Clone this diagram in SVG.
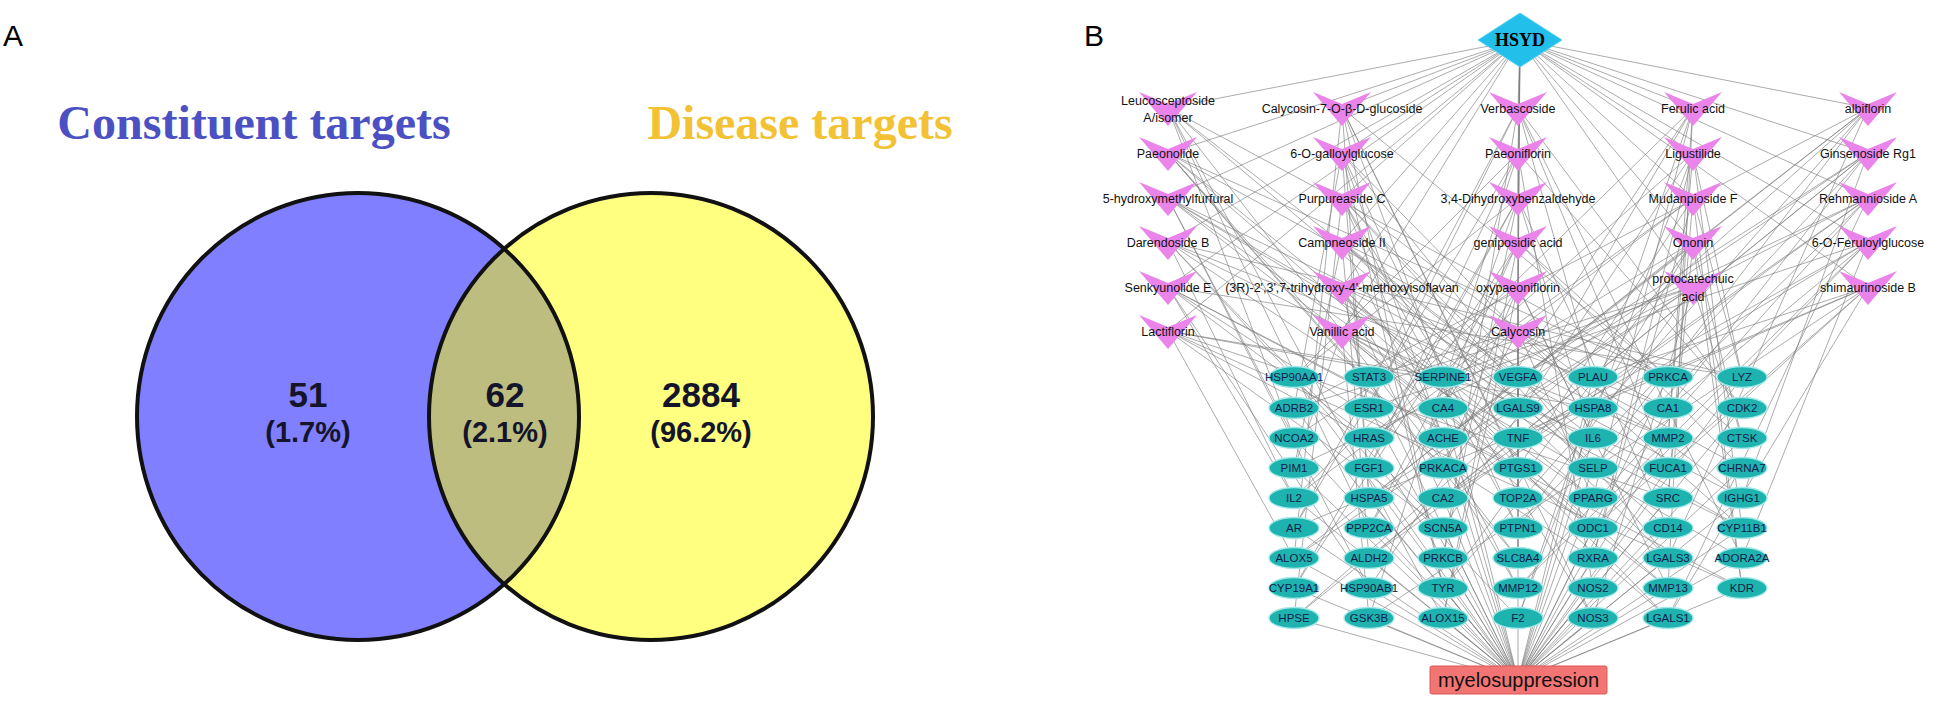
<svg xmlns="http://www.w3.org/2000/svg" xmlns:xlink="http://www.w3.org/1999/xlink" width="1937" height="712" viewBox="0 0 1937 712">
<style>
.panel{font-family:"Liberation Sans",Arial,sans-serif;font-size:30px;fill:#000}
.title{font-family:"Liberation Serif","Times New Roman",serif;font-weight:bold;font-size:48px;text-anchor:middle}
.num{font-family:"Liberation Sans",Arial,sans-serif;font-weight:700;font-size:35px;text-anchor:middle;fill:#14142a}
.pct{font-family:"Liberation Sans",Arial,sans-serif;font-weight:700;font-size:29px;text-anchor:middle;fill:#14142a}
.ring{fill:none;stroke:#111;stroke-width:4}
.edge{fill:none;stroke:#7c7c7c;stroke-width:0.75;opacity:0.85}
.cmp use{fill:#EA84EA}
.cmp text{font-family:"Liberation Sans",Arial,sans-serif;font-size:12.5px;text-anchor:middle;fill:#111}
.tgt ellipse{fill:#1FB3AF;stroke:#A2E8E8;stroke-width:1.3}
.tgt text{font-family:"Liberation Sans",Arial,sans-serif;font-size:11.5px;text-anchor:middle;fill:#12204a}
</style>
<defs>
<polygon id="vshape" points="-29,-16 0,-4 29,-16 0,18"/>
<clipPath id="clipL"><ellipse cx="358" cy="416.5" rx="221" ry="223.5"/></clipPath>
</defs>
<rect width="1937" height="712" fill="#fff"/>

<!-- Panel A -->
<text class="panel" x="3" y="46">A</text>
<g id="venn">
<text class="title" x="254" y="139" fill="#4B50C3">Constituent targets</text>
<text class="title" x="800" y="139" fill="#F3C234">Disease targets</text>
<ellipse cx="358" cy="416.5" rx="221" ry="223.5" fill="#7F7FFF"/>
<ellipse cx="651" cy="416.5" rx="222" ry="223.5" fill="#FFFF80"/>
<ellipse cx="651" cy="416.5" rx="222" ry="223.5" fill="#BDBD80" clip-path="url(#clipL)"/>
<ellipse class="ring" cx="358" cy="416.5" rx="221" ry="223.5"/>
<ellipse class="ring" cx="651" cy="416.5" rx="222" ry="223.5"/>
<text class="num" x="308" y="407">51</text>
<text class="pct" x="308" y="442">(1.7%)</text>
<text class="num" x="505" y="407">62</text>
<text class="pct" x="505" y="442">(2.1%)</text>
<text class="num" x="701" y="407">2884</text>
<text class="pct" x="701" y="442">(96.2%)</text>
</g>

<!-- Panel B -->
<text class="panel" x="1084" y="46">B</text>
<g id="connectors">
<path class="edge" d="M1520 40L1168 108M1520 40L1168 153M1520 40L1168 198M1520 40L1168 242M1520 40L1168 287M1520 40L1168 331M1520 40L1342 108M1520 40L1342 153M1520 40L1342 198M1520 40L1342 242M1520 40L1342 287M1520 40L1342 331M1520 40L1518 108M1520 40L1518 153M1520 40L1518 198M1520 40L1518 242M1520 40L1518 287M1520 40L1518 331M1520 40L1693 108M1520 40L1693 153M1520 40L1693 198M1520 40L1693 242M1520 40L1693 287M1520 40L1868 108M1520 40L1868 153M1520 40L1868 198M1520 40L1868 242M1520 40L1868 287"/>
<path class="edge" d="M1168 108L1294 438M1168 108L1369 528M1168 108L1443 618M1168 108L1593 438M1168 108L1668 528
M1168 153L1369 377M1168 153L1443 468M1168 153L1518 558M1168 153L1668 377M1168 153L1742 468
M1168 198L1369 588M1168 198L1518 408M1168 198L1593 498M1168 198L1668 588M1168 198L1294 438
M1168 242L1443 528M1168 242L1518 618M1168 242L1668 438M1168 242L1742 528M1168 242L1369 377
M1168 287L1518 468M1168 287L1593 558M1168 287L1742 377M1168 287L1294 498M1168 287L1369 588
M1168 331L1593 408M1168 331L1668 498M1168 331L1742 588M1168 331L1369 438M1168 331L1443 528
M1342 108L1593 618M1342 108L1742 438M1342 108L1294 558M1342 108L1443 377M1342 108L1518 468
M1342 153L1668 558M1342 153L1294 408M1342 153L1369 498M1342 153L1443 588M1342 153L1593 408
M1342 198L1742 498M1342 198L1294 618M1342 198L1443 438M1342 198L1518 528M1342 198L1593 618
M1342 242L1294 468M1342 242L1369 558M1342 242L1518 377M1342 242L1593 468M1342 242L1668 558
M1342 287L1369 408M1342 287L1443 498M1342 287L1518 588M1342 287L1668 408M1342 287L1742 498
M1342 331L1369 618M1342 331L1518 438M1342 331L1593 528M1342 331L1668 618M1342 331L1294 468
M1518 108L1443 558M1518 108L1593 377M1518 108L1668 468M1518 108L1742 558M1518 108L1369 408
M1518 153L1518 498M1518 153L1593 588M1518 153L1742 408M1518 153L1294 528M1518 153L1369 618
M1518 198L1593 438M1518 198L1668 528M1518 198L1294 377M1518 198L1369 468M1518 198L1443 558
M1518 242L1668 377M1518 242L1742 468M1518 242L1294 588M1518 242L1443 408M1518 242L1518 498
M1518 287L1668 588M1518 287L1294 438M1518 287L1369 528M1518 287L1443 618M1518 287L1593 438
M1518 331L1742 528M1518 331L1369 377M1518 331L1443 468M1518 331L1518 558M1518 331L1668 377
M1693 108L1294 498M1693 108L1369 588M1693 108L1518 408M1693 108L1593 498M1693 108L1668 588
M1693 153L1369 438M1693 153L1443 528M1693 153L1518 618M1693 153L1668 438M1693 153L1742 528
M1693 198L1443 377M1693 198L1518 468M1693 198L1593 558M1693 198L1742 377M1693 198L1294 498
M1693 242L1443 588M1693 242L1593 408M1693 242L1668 498M1693 242L1742 588M1693 242L1369 438
M1693 287L1518 528M1693 287L1593 618M1693 287L1742 438M1693 287L1294 558M1693 287L1443 377
M1868 108L1593 468M1868 108L1668 558M1868 108L1294 408M1868 108L1369 498M1868 108L1443 588
M1868 153L1668 408M1868 153L1742 498M1868 153L1294 618M1868 153L1443 438M1868 153L1518 528
M1868 198L1668 618M1868 198L1294 468M1868 198L1369 558M1868 198L1518 377M1868 198L1593 468
M1868 242L1742 558M1868 242L1369 408M1868 242L1443 498M1868 242L1518 588M1868 242L1668 408
M1868 287L1294 528M1868 287L1369 618M1868 287L1518 438M1868 287L1593 528M1868 287L1668 618"/>
<path class="edge" d="M1168 108L1518 558M1168 108L1668 377M1168 153L1593 498M1168 153L1668 588M1168 198L1668 438M1168 198L1742 528
M1168 242L1742 377M1168 242L1294 498M1168 287L1742 588M1168 287L1369 438M1168 331L1294 558M1168 331L1443 377
M1342 108L1369 498M1342 108L1443 588M1342 153L1443 438M1342 153L1518 528M1342 198L1518 377M1342 198L1593 468
M1342 242L1518 588M1342 242L1668 408M1342 287L1593 528M1342 287L1668 618M1342 331L1668 468M1342 331L1742 558
M1518 108L1742 408M1518 108L1294 528M1518 153L1294 377M1518 153L1369 468M1518 198L1294 588M1518 198L1443 408
M1518 242L1369 528M1518 242L1443 618M1518 287L1443 468M1518 287L1518 558M1518 331L1518 408M1518 331L1593 498
M1693 108L1518 618M1693 108L1668 438M1693 153L1593 558M1693 153L1742 377M1693 198L1668 498M1693 198L1742 588
M1693 242L1742 438M1693 242L1294 558M1693 287L1294 408M1693 287L1369 498
M1868 108L1294 618M1868 108L1443 438M1868 153L1369 558M1868 153L1518 377M1868 198L1443 498M1868 198L1518 588
M1868 242L1518 438M1868 242L1593 528M1868 287L1593 377M1868 287L1668 468"/>
<path class="edge" d="M1294 377L1518 680M1294 408L1518 680M1294 438L1518 680M1294 468L1518 680M1294 498L1518 680M1294 528L1518 680M1294 558L1518 680M1294 588L1518 680M1294 618L1518 680
M1369 377L1518 680M1369 408L1518 680M1369 438L1518 680M1369 468L1518 680M1369 498L1518 680M1369 528L1518 680M1369 558L1518 680M1369 588L1518 680M1369 618L1518 680
M1443 377L1518 680M1443 408L1518 680M1443 438L1518 680M1443 468L1518 680M1443 498L1518 680M1443 528L1518 680M1443 558L1518 680M1443 588L1518 680M1443 618L1518 680
M1518 377L1518 680
M1593 377L1518 680M1593 408L1518 680M1593 438L1518 680M1593 468L1518 680M1593 498L1518 680M1593 528L1518 680M1593 558L1518 680M1593 588L1518 680M1593 618L1518 680
M1668 377L1518 680M1668 408L1518 680M1668 438L1518 680M1668 468L1518 680M1668 498L1518 680M1668 528L1518 680M1668 558L1518 680M1668 588L1518 680M1668 618L1518 680
M1742 377L1518 680M1742 408L1518 680M1742 438L1518 680M1742 468L1518 680M1742 498L1518 680M1742 528L1518 680M1742 558L1518 680M1742 588L1518 680"/>
</g>

<g id="HSYD">
<polygon points="1478,40 1520,13 1562,40 1520,67" fill="#22BFEA" stroke="#5fd3f0" stroke-width="1"/>
<text x="1520" y="46" font-family="Liberation Serif,'Times New Roman',serif" font-weight="bold" font-size="18" text-anchor="middle" fill="#000">HSYD</text>
</g>

<g id="compounds" class="cmp">
<g id="c-leucosceptoside"><use href="#vshape" x="1168" y="108"/><text x="1168" y="104.5">Leucosceptoside</text><text x="1168" y="121.5">A/isomer</text></g>
<g id="c-paeonolide"><use href="#vshape" x="1168" y="153"/><text x="1168" y="157.5">Paeonolide</text></g>
<g id="c-hmf"><use href="#vshape" x="1168" y="198"/><text x="1168" y="202.5">5-hydroxymethylfurfural</text></g>
<g id="c-darendoside"><use href="#vshape" x="1168" y="242"/><text x="1168" y="246.5">Darendoside B</text></g>
<g id="c-senkyunolide"><use href="#vshape" x="1168" y="287"/><text x="1168" y="291.5">Senkyunolide E</text></g>
<g id="c-lactiflorin"><use href="#vshape" x="1168" y="331"/><text x="1168" y="335.5">Lactiflorin</text></g>

<g id="c-calycosin-glc"><use href="#vshape" x="1342" y="108"/><text x="1342" y="112.5">Calycosin-7-O-β-D-glucoside</text></g>
<g id="c-galloylglucose"><use href="#vshape" x="1342" y="153"/><text x="1342" y="157.5">6-O-galloylglucose</text></g>
<g id="c-purpureaside"><use href="#vshape" x="1342" y="198"/><text x="1342" y="202.5">Purpureaside C</text></g>
<g id="c-campneoside"><use href="#vshape" x="1342" y="242"/><text x="1342" y="246.5">Campneoside II</text></g>
<g id="c-isoflavan"><use href="#vshape" x="1342" y="287"/><text x="1342" y="291.5">(3R)-2',3',7-trihydroxy-4'-methoxyisoflavan</text></g>
<g id="c-vanillic"><use href="#vshape" x="1342" y="331"/><text x="1342" y="335.5">Vanillic acid</text></g>

<g id="c-verbascoside"><use href="#vshape" x="1518" y="108"/><text x="1518" y="112.5">Verbascoside</text></g>
<g id="c-paeoniflorin"><use href="#vshape" x="1518" y="153"/><text x="1518" y="157.5">Paeoniflorin</text></g>
<g id="c-dhb"><use href="#vshape" x="1518" y="198"/><text x="1518" y="202.5">3,4-Dihydroxybenzaldehyde</text></g>
<g id="c-geniposidic"><use href="#vshape" x="1518" y="242"/><text x="1518" y="246.5">geniposidic acid</text></g>
<g id="c-oxypaeoniflorin"><use href="#vshape" x="1518" y="287"/><text x="1518" y="291.5">oxypaeoniflorin</text></g>
<g id="c-calycosin"><use href="#vshape" x="1518" y="331"/><text x="1518" y="335.5">Calycosin</text></g>

<g id="c-ferulic"><use href="#vshape" x="1693" y="108"/><text x="1693" y="112.5">Ferulic acid</text></g>
<g id="c-ligustilide"><use href="#vshape" x="1693" y="153"/><text x="1693" y="157.5">Ligustilide</text></g>
<g id="c-mudanpioside"><use href="#vshape" x="1693" y="198"/><text x="1693" y="202.5">Mudanpioside F</text></g>
<g id="c-ononin"><use href="#vshape" x="1693" y="242"/><text x="1693" y="246.5">Ononin</text></g>
<g id="c-protocatechuic"><use href="#vshape" x="1693" y="287"/><text x="1693" y="282.5">protocatechuic</text><text x="1693" y="300.5">acid</text></g>

<g id="c-albiflorin"><use href="#vshape" x="1868" y="108"/><text x="1868" y="112.5">albiflorin</text></g>
<g id="c-ginsenoside"><use href="#vshape" x="1868" y="153"/><text x="1868" y="157.5">Ginsenoside Rg1</text></g>
<g id="c-rehmannioside"><use href="#vshape" x="1868" y="198"/><text x="1868" y="202.5">Rehmannioside A</text></g>
<g id="c-feruloylglucose"><use href="#vshape" x="1868" y="242"/><text x="1868" y="246.5">6-O-Feruloylglucose</text></g>
<g id="c-shimaurinoside"><use href="#vshape" x="1868" y="287"/><text x="1868" y="291.5">shimaurinoside B</text></g>
</g>

<g id="targets" class="tgt">
<g id="t-HSP90AA1"><ellipse cx="1294" cy="377" rx="25" ry="10.5"/><text x="1294" y="381">HSP90AA1</text></g>
<g id="t-ADRB2"><ellipse cx="1294" cy="408" rx="25" ry="10.5"/><text x="1294" y="412">ADRB2</text></g>
<g id="t-NCOA2"><ellipse cx="1294" cy="438" rx="25" ry="10.5"/><text x="1294" y="442">NCOA2</text></g>
<g id="t-PIM1"><ellipse cx="1294" cy="468" rx="25" ry="10.5"/><text x="1294" y="472">PIM1</text></g>
<g id="t-IL2"><ellipse cx="1294" cy="498" rx="25" ry="10.5"/><text x="1294" y="502">IL2</text></g>
<g id="t-AR"><ellipse cx="1294" cy="528" rx="25" ry="10.5"/><text x="1294" y="532">AR</text></g>
<g id="t-ALOX5"><ellipse cx="1294" cy="558" rx="25" ry="10.5"/><text x="1294" y="562">ALOX5</text></g>
<g id="t-CYP19A1"><ellipse cx="1294" cy="588" rx="25" ry="10.5"/><text x="1294" y="592">CYP19A1</text></g>
<g id="t-HPSE"><ellipse cx="1294" cy="618" rx="25" ry="10.5"/><text x="1294" y="622">HPSE</text></g>

<g id="t-STAT3"><ellipse cx="1369" cy="377" rx="25" ry="10.5"/><text x="1369" y="381">STAT3</text></g>
<g id="t-ESR1"><ellipse cx="1369" cy="408" rx="25" ry="10.5"/><text x="1369" y="412">ESR1</text></g>
<g id="t-HRAS"><ellipse cx="1369" cy="438" rx="25" ry="10.5"/><text x="1369" y="442">HRAS</text></g>
<g id="t-FGF1"><ellipse cx="1369" cy="468" rx="25" ry="10.5"/><text x="1369" y="472">FGF1</text></g>
<g id="t-HSPA5"><ellipse cx="1369" cy="498" rx="25" ry="10.5"/><text x="1369" y="502">HSPA5</text></g>
<g id="t-PPP2CA"><ellipse cx="1369" cy="528" rx="25" ry="10.5"/><text x="1369" y="532">PPP2CA</text></g>
<g id="t-ALDH2"><ellipse cx="1369" cy="558" rx="25" ry="10.5"/><text x="1369" y="562">ALDH2</text></g>
<g id="t-HSP90AB1"><ellipse cx="1369" cy="588" rx="25" ry="10.5"/><text x="1369" y="592">HSP90AB1</text></g>
<g id="t-GSK3B"><ellipse cx="1369" cy="618" rx="25" ry="10.5"/><text x="1369" y="622">GSK3B</text></g>

<g id="t-SERPINE1"><ellipse cx="1443" cy="377" rx="25" ry="10.5"/><text x="1443" y="381">SERPINE1</text></g>
<g id="t-CA4"><ellipse cx="1443" cy="408" rx="25" ry="10.5"/><text x="1443" y="412">CA4</text></g>
<g id="t-ACHE"><ellipse cx="1443" cy="438" rx="25" ry="10.5"/><text x="1443" y="442">ACHE</text></g>
<g id="t-PRKACA"><ellipse cx="1443" cy="468" rx="25" ry="10.5"/><text x="1443" y="472">PRKACA</text></g>
<g id="t-CA2"><ellipse cx="1443" cy="498" rx="25" ry="10.5"/><text x="1443" y="502">CA2</text></g>
<g id="t-SCN5A"><ellipse cx="1443" cy="528" rx="25" ry="10.5"/><text x="1443" y="532">SCN5A</text></g>
<g id="t-PRKCB"><ellipse cx="1443" cy="558" rx="25" ry="10.5"/><text x="1443" y="562">PRKCB</text></g>
<g id="t-TYR"><ellipse cx="1443" cy="588" rx="25" ry="10.5"/><text x="1443" y="592">TYR</text></g>
<g id="t-ALOX15"><ellipse cx="1443" cy="618" rx="25" ry="10.5"/><text x="1443" y="622">ALOX15</text></g>

<g id="t-VEGFA"><ellipse cx="1518" cy="377" rx="25" ry="10.5"/><text x="1518" y="381">VEGFA</text></g>
<g id="t-LGALS9"><ellipse cx="1518" cy="408" rx="25" ry="10.5"/><text x="1518" y="412">LGALS9</text></g>
<g id="t-TNF"><ellipse cx="1518" cy="438" rx="25" ry="10.5"/><text x="1518" y="442">TNF</text></g>
<g id="t-PTGS1"><ellipse cx="1518" cy="468" rx="25" ry="10.5"/><text x="1518" y="472">PTGS1</text></g>
<g id="t-TOP2A"><ellipse cx="1518" cy="498" rx="25" ry="10.5"/><text x="1518" y="502">TOP2A</text></g>
<g id="t-PTPN1"><ellipse cx="1518" cy="528" rx="25" ry="10.5"/><text x="1518" y="532">PTPN1</text></g>
<g id="t-SLC8A4"><ellipse cx="1518" cy="558" rx="25" ry="10.5"/><text x="1518" y="562">SLC8A4</text></g>
<g id="t-MMP12"><ellipse cx="1518" cy="588" rx="25" ry="10.5"/><text x="1518" y="592">MMP12</text></g>
<g id="t-F2"><ellipse cx="1518" cy="618" rx="25" ry="10.5"/><text x="1518" y="622">F2</text></g>

<g id="t-PLAU"><ellipse cx="1593" cy="377" rx="25" ry="10.5"/><text x="1593" y="381">PLAU</text></g>
<g id="t-HSPA8"><ellipse cx="1593" cy="408" rx="25" ry="10.5"/><text x="1593" y="412">HSPA8</text></g>
<g id="t-IL6"><ellipse cx="1593" cy="438" rx="25" ry="10.5"/><text x="1593" y="442">IL6</text></g>
<g id="t-SELP"><ellipse cx="1593" cy="468" rx="25" ry="10.5"/><text x="1593" y="472">SELP</text></g>
<g id="t-PPARG"><ellipse cx="1593" cy="498" rx="25" ry="10.5"/><text x="1593" y="502">PPARG</text></g>
<g id="t-ODC1"><ellipse cx="1593" cy="528" rx="25" ry="10.5"/><text x="1593" y="532">ODC1</text></g>
<g id="t-RXRA"><ellipse cx="1593" cy="558" rx="25" ry="10.5"/><text x="1593" y="562">RXRA</text></g>
<g id="t-NOS2"><ellipse cx="1593" cy="588" rx="25" ry="10.5"/><text x="1593" y="592">NOS2</text></g>
<g id="t-NOS3"><ellipse cx="1593" cy="618" rx="25" ry="10.5"/><text x="1593" y="622">NOS3</text></g>

<g id="t-PRKCA"><ellipse cx="1668" cy="377" rx="25" ry="10.5"/><text x="1668" y="381">PRKCA</text></g>
<g id="t-CA1"><ellipse cx="1668" cy="408" rx="25" ry="10.5"/><text x="1668" y="412">CA1</text></g>
<g id="t-MMP2"><ellipse cx="1668" cy="438" rx="25" ry="10.5"/><text x="1668" y="442">MMP2</text></g>
<g id="t-FUCA1"><ellipse cx="1668" cy="468" rx="25" ry="10.5"/><text x="1668" y="472">FUCA1</text></g>
<g id="t-SRC"><ellipse cx="1668" cy="498" rx="25" ry="10.5"/><text x="1668" y="502">SRC</text></g>
<g id="t-CD14"><ellipse cx="1668" cy="528" rx="25" ry="10.5"/><text x="1668" y="532">CD14</text></g>
<g id="t-LGALS3"><ellipse cx="1668" cy="558" rx="25" ry="10.5"/><text x="1668" y="562">LGALS3</text></g>
<g id="t-MMP13"><ellipse cx="1668" cy="588" rx="25" ry="10.5"/><text x="1668" y="592">MMP13</text></g>
<g id="t-LGALS1"><ellipse cx="1668" cy="618" rx="25" ry="10.5"/><text x="1668" y="622">LGALS1</text></g>

<g id="t-LYZ"><ellipse cx="1742" cy="377" rx="25" ry="10.5"/><text x="1742" y="381">LYZ</text></g>
<g id="t-CDK2"><ellipse cx="1742" cy="408" rx="25" ry="10.5"/><text x="1742" y="412">CDK2</text></g>
<g id="t-CTSK"><ellipse cx="1742" cy="438" rx="25" ry="10.5"/><text x="1742" y="442">CTSK</text></g>
<g id="t-CHRNA7"><ellipse cx="1742" cy="468" rx="25" ry="10.5"/><text x="1742" y="472">CHRNA7</text></g>
<g id="t-IGHG1"><ellipse cx="1742" cy="498" rx="25" ry="10.5"/><text x="1742" y="502">IGHG1</text></g>
<g id="t-CYP11B1"><ellipse cx="1742" cy="528" rx="25" ry="10.5"/><text x="1742" y="532">CYP11B1</text></g>
<g id="t-ADORA2A"><ellipse cx="1742" cy="558" rx="25" ry="10.5"/><text x="1742" y="562">ADORA2A</text></g>
<g id="t-KDR"><ellipse cx="1742" cy="588" rx="25" ry="10.5"/><text x="1742" y="592">KDR</text></g>
</g>

<g id="myelosuppression">
<rect x="1430" y="666" width="177" height="28" rx="2" fill="#F27473" stroke="#D95858" stroke-width="1"/>
<text x="1518.5" y="687" font-family="Liberation Sans,Arial,sans-serif" font-size="20" text-anchor="middle" fill="#111">myelosuppression</text>
</g>
</svg>
